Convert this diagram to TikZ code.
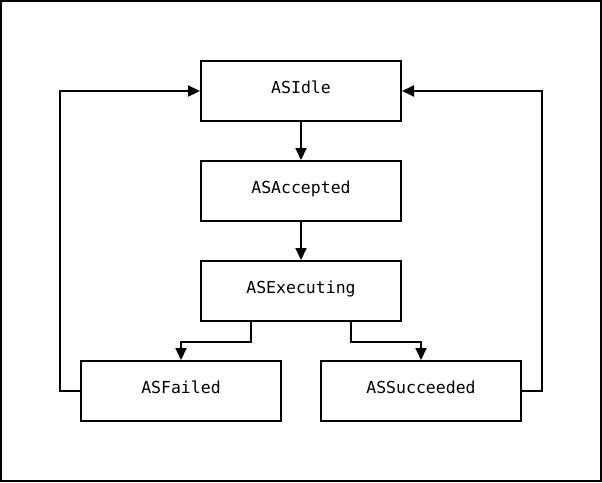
\documentclass[tikz,border=0pt]{standalone}
\usepackage{fontspec}
\setmonofont{DejaVu Sans Mono}
\usetikzlibrary{arrows.meta}
\newcommand{\stxt}[1]{\raisebox{-2.5pt}[0pt][0pt]{#1}}
\begin{document}
\begin{tikzpicture}[x=1pt,y=-1pt,
  state/.style={draw,line width=2pt,minimum width=200pt,minimum height=60pt,inner sep=0pt,font=\ttfamily\fontsize{16.5}{19}\selectfont},
  conn/.style={line width=2pt,-{Triangle[width=11pt,length=12pt]}}]
\useasboundingbox (0,0) rectangle (602,482);
\draw[line width=2pt] (1,1) rectangle (601,481);
\node[state] (idle) at (301,91) {\stxt{ASIdle}};
\node[state] (acc) at (301,191) {\stxt{ASAccepted}};
\node[state] (exe) at (301,291) {\stxt{ASExecuting}};
\node[state] (fail) at (181,391) {\stxt{ASFailed}};
\node[state] (succ) at (421,391) {\stxt{ASSucceeded}};
\draw[conn] (idle) -- (acc);
\draw[conn] (acc) -- (exe);
\draw[conn] ([xshift=-50pt]exe.south) -- ++(0,20) -| (fail.north);
\draw[conn] ([xshift=50pt]exe.south) -- ++(0,20) -| (succ.north);
\draw[conn] (fail.west) -- ++(-20,0) |- (idle.west);
\draw[conn] (succ.east) -- ++(20,0) |- (idle.east);
\end{tikzpicture}
\end{document}
